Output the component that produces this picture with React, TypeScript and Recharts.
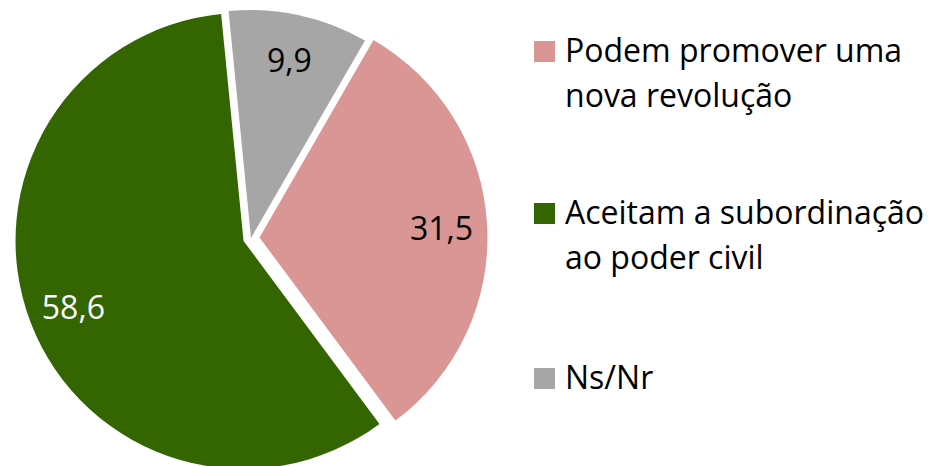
import { PieChart, Pie, Cell, Legend } from 'recharts'

const categories = [
  'Podem promover uma nova revolução',
  'Aceitam a subordinação ao poder civil',
  'Ns/Nr',
]
const values = [31.5, 58.6, 9.9]

const colors = ['#D99694', '#336600', '#A6A6A6']
const labelColors = ['#000000', '#FFFFFF', '#000000']
// how far each slice is pulled out of the pie (px)
const explode = [8.5, 8, 0]

const FONT = '"Open Sans", sans-serif'
const CX = 251
const CY = 238
const R = 228
const START = 60
const END = -300
const RAD = Math.PI / 180

const data = categories.map((name, i) => ({ name, value: values[i] }))
const total = values.reduce((a, b) => a + b, 0)

const fmt = (v: number) => v.toFixed(1).replace('.', ',')

// centre of each exploded slice, along its mid angle
function sliceCenter(i: number) {
  const before = values.slice(0, i).reduce((a, b) => a + b, 0)
  const mid = START - ((before + values[i] / 2) / total) * (START - END)
  return {
    x: CX + explode[i] * Math.cos(mid * RAD),
    y: CY - explode[i] * Math.sin(mid * RAD),
  }
}

function makeLabel(slice: number) {
  return (p: any) => {
    if (p.index !== slice) return null
    const r = p.outerRadius * 0.8
    const x = p.cx + r * Math.cos(-p.midAngle * RAD)
    const y = p.cy + r * Math.sin(-p.midAngle * RAD)
    return (
      <text
        x={x}
        y={y}
        fill={labelColors[slice]}
        textAnchor="middle"
        dominantBaseline="central"
        style={{ fontFamily: FONT, fontSize: 32 }}
      >
        {fmt(values[slice])}
      </text>
    )
  }
}

const legendTops = [27, 189, 354]

function LegendBox() {
  return (
    <div style={{ position: 'relative', width: 401, height: 466 }}>
      {categories.map((c, i) => (
        <div key={c} style={{ position: 'absolute', left: 0, top: legendTops[i] }}>
          <div style={{
            position: 'absolute', left: 0, top: 14, width: 21, height: 21,
            background: colors[i],
          }} />
          <div style={{
            position: 'absolute', left: 31, top: 0, width: 368,
            fontFamily: FONT, fontSize: 32, lineHeight: '45px', color: '#000',
          }}>
            {c}
          </div>
        </div>
      ))}
    </div>
  )
}

export default function App() {
  return (
    <div style={{ position: 'fixed', left: 0, top: 0, width: 935, height: 466, background: '#fff', overflow: 'hidden' }}>
      <PieChart width={935} height={466} margin={{ top: 0, right: 0, bottom: 0, left: 0 }}>
        {categories.map((_, slice) => {
          const c = sliceCenter(slice)
          return (
            <Pie
              key={slice}
              data={data}
              dataKey="value"
              nameKey="name"
              cx={c.x}
              cy={c.y}
              outerRadius={R}
              startAngle={START}
              endAngle={END}
              stroke="none"
              labelLine={false}
              label={makeLabel(slice)}
              legendType="none"
              isAnimationActive={false}
            >
              {data.map((d, i) => (
                <Cell key={d.name} fill={i === slice ? colors[i] : 'none'} stroke="none" />
              ))}
            </Pie>
          )
        })}
        <Legend
          content={<LegendBox />}
          wrapperStyle={{ position: 'absolute', left: 534, top: 0, width: 401, height: 466 }}
        />
      </PieChart>
    </div>
  )
}
